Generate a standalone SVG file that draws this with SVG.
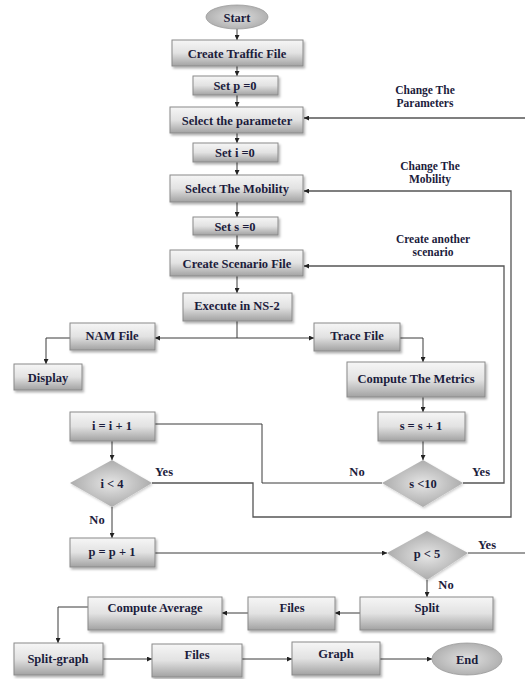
<svg xmlns="http://www.w3.org/2000/svg" width="525" height="679" viewBox="0 0 525 679">
<style>
.box{fill:url(#bg);stroke:#8a8a8a;stroke-width:1;filter:url(#sh)}
.dia{fill:url(#dg);stroke:none;filter:url(#sh2)}
.ell{fill:url(#eg);stroke:#9a9a9a;stroke-width:0.8}
.t{font-family:"Liberation Serif","DejaVu Serif",serif;font-weight:bold;font-size:12.5px;fill:#1c1c3c;text-anchor:middle}
.lbl{font-family:"Liberation Serif","DejaVu Serif",serif;font-weight:bold;font-size:12.5px;fill:#1c1c3c;text-anchor:middle}
.lbl2{font-family:"Liberation Serif","DejaVu Serif",serif;font-weight:bold;font-size:11.5px;fill:#1c1c3c;text-anchor:middle}
.c{fill:none;stroke:#3a3a3a;stroke-width:1}
.a{marker-end:url(#ar)}
.loop{fill:none;stroke:#555;stroke-width:1.3}
</style>
<defs>
<linearGradient id="bg" x1="0" y1="0" x2="0" y2="1">
<stop offset="0" stop-color="#f6f6f6"/>
<stop offset="0.5" stop-color="#e2e2e2"/>
<stop offset="1" stop-color="#a2a2a2"/>
</linearGradient>
<radialGradient id="dg" cx="0.5" cy="0.5" r="0.55">
<stop offset="0" stop-color="#e6e6e6"/>
<stop offset="1" stop-color="#a6a6a6"/>
</radialGradient>
<radialGradient id="eg" cx="0.5" cy="0.5" r="0.6">
<stop offset="0" stop-color="#e0e0e0"/>
<stop offset="1" stop-color="#a8a8a8"/>
</radialGradient>
<filter id="sh" x="-10%" y="-20%" width="130%" height="160%">
<feDropShadow dx="1.5" dy="2" stdDeviation="1" flood-color="#000" flood-opacity="0.3"/>
</filter>
<filter id="sh2" x="-10%" y="-20%" width="130%" height="160%">
<feDropShadow dx="1" dy="1.5" stdDeviation="1" flood-color="#000" flood-opacity="0.2"/>
</filter>
<marker id="ar" viewBox="0 0 10 10" refX="10" refY="5" markerWidth="5" markerHeight="5" markerUnits="userSpaceOnUse" orient="auto">
<path d="M0,0 L10,5 L0,10 z" fill="#222"/>
</marker>
</defs>

<g id="connectors">
<line class="c a" x1="237" y1="29" x2="237" y2="40"/>
<line class="c a" x1="237" y1="66" x2="237" y2="76"/>
<line class="c a" x1="237" y1="95" x2="237" y2="107"/>
<line class="loop a" x1="525" y1="118" x2="304" y2="118"/>
<line class="c a" x1="237" y1="133" x2="237" y2="143"/>
<line class="c a" x1="237" y1="162" x2="237" y2="175"/>
<line class="c a" x1="237" y1="202" x2="237" y2="217"/>
<line class="c a" x1="237" y1="235" x2="237" y2="250"/>
<line class="c a" x1="237" y1="276" x2="237" y2="293"/>
<line class="c" x1="237" y1="321" x2="237" y2="338"/>
<line class="c a" x1="237" y1="338" x2="155" y2="338"/>
<line class="c a" x1="237" y1="338" x2="314" y2="338"/>
<polyline class="c a" points="70,338 46,338 46,364"/>
<polyline class="c a" points="400,338 423,338 423,362"/>
<line class="c a" x1="423" y1="397" x2="423" y2="412"/>
<line class="c a" x1="423" y1="441" x2="423" y2="460"/>
<polyline class="loop a" points="463,483 504,483 504,266 304,266"/>
<polyline class="c" points="382,483 262,483 262,424 155,424"/>
<line class="c a" x1="112" y1="441" x2="112" y2="460"/>
<polyline class="loop a" points="152,483 253,483 253,517 511,517 511,191 304,191"/>
<line class="c a" x1="112" y1="507" x2="112" y2="538"/>
<line class="c a" x1="155" y1="553" x2="387" y2="553"/>
<line class="c" x1="468" y1="553" x2="525" y2="553"/>
<line class="c a" x1="427" y1="580" x2="427" y2="597"/>
<line class="c a" x1="360" y1="613" x2="335" y2="613"/>
<line class="c a" x1="248" y1="613" x2="222" y2="613"/>
<polyline class="c a" points="88,607 58,607 58,643"/>
<line class="c a" x1="103" y1="659" x2="152" y2="659"/>
<line class="c a" x1="242" y1="659" x2="292" y2="659"/>
<line class="c a" x1="380" y1="659" x2="432" y2="659"/>
</g>

<g id="labels">
<text class="lbl2" x="425" y="94">Change The</text>
<text class="lbl2" x="425" y="107">Parameters</text>
<text class="lbl2" x="430" y="170">Change The</text>
<text class="lbl2" x="430" y="183">Mobility</text>
<text class="lbl2" x="433" y="243">Create another</text>
<text class="lbl2" x="433" y="256">scenario</text>
<text class="lbl" x="357" y="476">No</text>
<text class="lbl" x="481" y="476">Yes</text>
<text class="lbl" x="164" y="476">Yes</text>
<text class="lbl" x="97" y="524">No</text>
<text class="lbl" x="487" y="549">Yes</text>
<text class="lbl" x="446" y="589">No</text>
</g>

<g id="start"><ellipse class="ell" cx="237" cy="17" rx="31" ry="12"/><text class="t" x="237" y="21.5">Start</text></g>
<g id="traffic"><rect class="box" x="172" y="40" width="131" height="26"/><text class="t" x="237" y="57.5">Create Traffic File</text></g>
<g id="setp"><rect class="box" x="193" y="76" width="85" height="19"/><text class="t" x="235" y="90">Set p =0</text></g>
<g id="param"><rect class="box" x="170" y="107" width="133" height="26"/><text class="t" x="237" y="124.5">Select the parameter</text></g>
<g id="seti"><rect class="box" x="193" y="143" width="85" height="19"/><text class="t" x="235" y="157">Set i =0</text></g>
<g id="mobility"><rect class="box" x="170" y="175" width="133" height="27"/><text class="t" x="237" y="193">Select The Mobility</text></g>
<g id="sets"><rect class="box" x="193" y="217" width="85" height="18"/><text class="t" x="235" y="230.5">Set s =0</text></g>
<g id="scenario"><rect class="box" x="170" y="250" width="133" height="26"/><text class="t" x="237" y="267.5">Create Scenario File</text></g>
<g id="execute"><rect class="box" x="183" y="293" width="109" height="28"/><text class="t" x="237" y="310">Execute in NS-2</text></g>
<g id="nam"><rect class="box" x="70" y="323" width="85" height="27"/><text class="t" x="112" y="340">NAM File</text></g>
<g id="trace"><rect class="box" x="314" y="323" width="86" height="28"/><text class="t" x="357" y="340">Trace File</text></g>
<g id="display"><rect class="box" x="14" y="364" width="68" height="26"/><text class="t" x="48" y="381.5">Display</text></g>
<g id="metrics"><rect class="box" x="347" y="362" width="138" height="35"/><text class="t" x="416" y="383">Compute The Metrics</text></g>
<g id="incs"><rect class="box" x="378" y="412" width="87" height="29"/><text class="t" x="421" y="430">s = s + 1</text></g>
<g id="condS"><polygon class="dia" points="423,460 463,483 423,507 382,483"/><text class="t" x="423" y="487.5">s &lt;10</text></g>
<g id="inci"><rect class="box" x="70" y="412" width="85" height="29"/><text class="t" x="112" y="430">i = i + 1</text></g>
<g id="condI"><polygon class="dia" points="112,460 152,483 112,507 70,483"/><text class="t" x="112" y="487.5">i &lt; 4</text></g>
<g id="incp"><rect class="box" x="70" y="538" width="85" height="29"/><text class="t" x="112" y="556">p = p + 1</text></g>
<g id="condP"><polygon class="dia" points="427,531 468,553 427,580 387,553"/><text class="t" x="427" y="558">p &lt; 5</text></g>
<g id="split"><rect class="box" x="360" y="597" width="133" height="33"/><text class="t" x="427" y="612">Split</text></g>
<g id="files1"><rect class="box" x="248" y="597" width="87" height="33"/><text class="t" x="292" y="612">Files</text></g>
<g id="average"><rect class="box" x="88" y="597" width="134" height="33"/><text class="t" x="155" y="612">Compute Average</text></g>
<g id="splitgraph"><rect class="box" x="14" y="643" width="89" height="32"/><text class="t" x="58" y="663">Split-graph</text></g>
<g id="files2"><rect class="box" x="152" y="644" width="90" height="33"/><text class="t" x="197" y="659">Files</text></g>
<g id="graph"><rect class="box" x="292" y="642" width="88" height="33"/><text class="t" x="336" y="658">Graph</text></g>
<g id="end"><ellipse class="ell" cx="467" cy="659" rx="35" ry="16"/><text class="t" x="467" y="663.5">End</text></g>
</svg>
